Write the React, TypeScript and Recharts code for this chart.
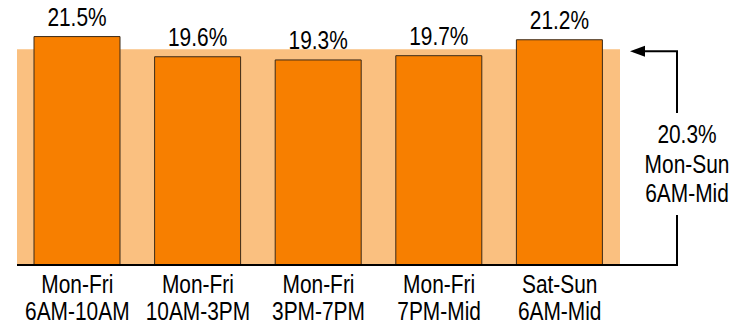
import React from "react";
import { BarChart, Bar, XAxis, YAxis, ReferenceArea, LabelList, Customized } from "recharts";

const dayLabels = ["Mon-Fri", "Mon-Fri", "Mon-Fri", "Mon-Fri", "Sat-Sun"];
const timeLabels = ["6AM-10AM", "10AM-3PM", "3PM-7PM", "7PM-Mid", "6AM-Mid"];
const shares = [21.5, 19.6, 19.3, 19.7, 21.2];
const averageShare = 20.3;
const averageLines = ["20.3%", "Mon-Sun", "6AM-Mid"];

const data = shares.map((v, i) => ({ key: `c${i}`, day: dayLabels[i], time: timeLabels[i], share: v }));

const W = 752;
const H = 325;
const M = { top: 10, right: 132, left: 17, bottom: 0 };
const AXIS_H = 60;
const Y_MAX = 24;
const PLOT_TOP = M.top;
const PLOT_BOTTOM = H - AXIS_H;
const yScale = (v: number) => PLOT_TOP + (PLOT_BOTTOM - PLOT_TOP) * (1 - v / Y_MAX);

const FONT = "'Liberation Sans', Arial, sans-serif";
const SX = 0.82;
const FS = 25.5;
const BAR = "#F77F00";
const BAND = "#FAC080";

const NText = ({ x, y, children }: { x: number; y: number; children: any }) => (
  <text
    transform={`translate(${x},${y}) scale(${SX},1)`}
    x={0}
    y={0}
    textAnchor="middle"
    fontFamily={FONT}
    fontSize={FS}
    fill="#000"
  >
    {children}
  </text>
);

const Tick = (props: any) => {
  const { x, y, payload, index } = props;
  const i = typeof index === "number" ? index : data.findIndex((d) => d.key === payload.value);
  return (
    <g>
      <NText x={x} y={y + 28}>{dayLabels[i]}</NText>
      <NText x={x} y={y + 55}>{timeLabels[i]}</NText>
    </g>
  );
};

const BarLabel = (props: any) => {
  const { x, y, width, value } = props;
  return <NText x={Number(x) + Number(width) / 2} y={Number(y) - 11}>{`${value}%`}</NText>;
};

const Bracket = () => {
  const ay = yScale(averageShare) + 2;
  const vx = 677;
  const tipX = 630;
  const cx = 687;
  return (
    <g>
      <line x1={W - M.right} y1={PLOT_BOTTOM} x2={vx} y2={PLOT_BOTTOM} stroke="#000" strokeWidth={2} />
      <line x1={vx} y1={ay} x2={vx} y2={113} stroke="#000" strokeWidth={2} />
      <line x1={vx} y1={215} x2={vx} y2={PLOT_BOTTOM + 1} stroke="#000" strokeWidth={2} />
      <line x1={tipX + 10} y1={ay} x2={vx + 1} y2={ay} stroke="#000" strokeWidth={2} />
      <polygon points={`${tipX},${ay} ${tipX + 15},${ay - 5.5} ${tipX + 15},${ay + 5.5}`} fill="#000" />
      {averageLines.map((t, i) => (
        <NText key={t} x={cx} y={143 + i * 29.5}>{t}</NText>
      ))}
    </g>
  );
};

export default function App() {
  return (
    <div style={{ position: "absolute", left: 0, top: 0, width: W, height: H, background: "#fff" }}>
      <BarChart width={W} height={H} data={data} margin={M} barSize={86}>
        <XAxis
          dataKey="key"
          height={AXIS_H}
          axisLine={{ stroke: "#000", strokeWidth: 2 }}
          tickLine={false}
          tickSize={0}
          tickMargin={0}
          interval={0}
          tick={<Tick />}
        />
        <YAxis hide domain={[0, Y_MAX]} />
        <ReferenceArea
          x1={data[0].key}
          x2={data[data.length - 1].key}
          y1={0}
          y2={averageShare}
          fill={BAND}
          fillOpacity={1}
          stroke="none"
        />
        <Bar dataKey="share" fill={BAR} stroke="#3b2a18" strokeWidth={1} isAnimationActive={false}>
          <LabelList dataKey="share" position="top" content={<BarLabel />} />
        </Bar>
        <Customized component={Bracket} />
      </BarChart>
    </div>
  );
}
